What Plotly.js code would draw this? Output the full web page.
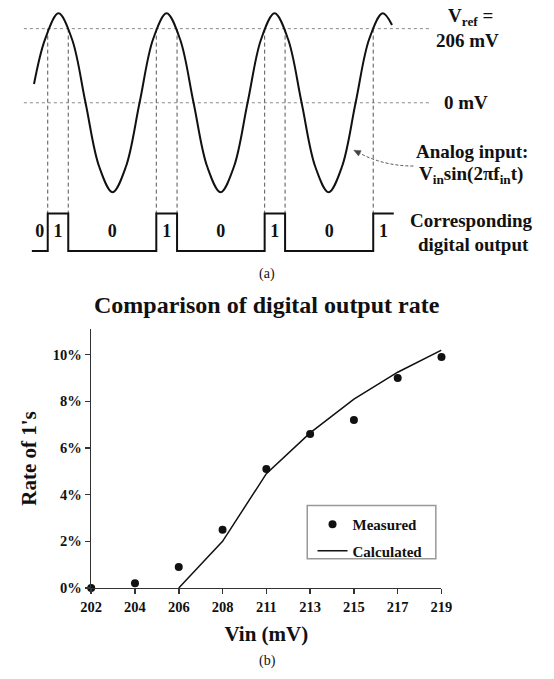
<!DOCTYPE html>
<html>
<head>
<meta charset="utf-8">
<script src="https://cdn.plot.ly/plotly-3.0.1.min.js"></script>
<style>
html,body{margin:0;padding:0;background:#fff;}
#chart{width:554px;height:679px;}
</style>
</head>
<body>
<div id="chart"></div>
<script>
// ---------- Panel (b) data ----------
const vinCategories = ['202', '204', '206', '208', '211', '213', '215', '217', '219'];
const measuredRate = [0.000, 0.002, 0.009, 0.025, 0.051, 0.066, 0.072, 0.090, 0.099];
const calculatedVin = ['206', '208', '211', '213', '215', '217', '219'];
const calculatedRate = [0.000, 0.020, 0.049, 0.0665, 0.081, 0.0925, 0.102];
const rateTicks = [0, 0.02, 0.04, 0.06, 0.08, 0.10];

// ---------- Panel (a) schematic data (time in periods, amplitude normalised) ----------
const sineT = [-0.227, -0.125, 0, 0.125, 0.25, 0.375, 0.5, 0.625, 0.75, 0.875,
               1, 1.125, 1.25, 1.375, 1.5, 1.625, 1.75, 1.875,
               2, 2.125, 2.25, 2.375, 2.5, 2.625, 2.75, 2.875, 3, 3.087];
const sineV = [0.21, 0.71, 1, 0.71, 0, -0.71, -1, -0.71, 0, 0.71,
               1, 0.71, 0, -0.71, -1, -0.71, 0, 0.71,
               1, 0.71, 0, -0.71, -1, -0.71, 0, 0.71, 1, 0.87];
const vrefLevel = 0.829;   // 206 mV relative to amplitude
const zeroLevel = 0;
const digitalT = [-0.247, -0.100, 0.090, 0.905, 1.097, 1.908, 2.097, 2.913, 3.103];
const digitalBits = [0, 1, 0, 1, 0, 1, 0, 1, 1];

// ---------- geometry helpers (layout only) ----------
const W = 554, H = 679;
const PX = v => v / W;
const PY = v => 1 - v / H;
const FONT = 'Liberation Serif, Times New Roman, serif';
const INK = '#111';

// top panel pixel geometry
const topH = 290, t0px = 49.5, pxPerT = 112.5, midPx = 104, ampPx = 90.5, lowPx = 254, bitPx = 38;
const x2Range = [-t0px / pxPerT, (W - t0px) / pxPerT];
const y2Range = [(midPx - topH) / ampPx, midPx / ampPx];
const y3Range = [-(topH - lowPx) / bitPx, lowPx / bitPx];
const y3toY2 = v => (midPx - (lowPx - v * bitPx)) / ampPx;

// bit labels at the middle of each output segment
const bitLabelT = [], bitLabelText = [], bitLabelY = [];
for (let i = 0; i < digitalT.length - 1; i++) {
  bitLabelT.push((digitalT[i] + digitalT[i + 1]) / 2);
  bitLabelText.push(String(digitalBits[i]));
  bitLabelY.push(0.5);
}

const traces = [
  {x: sineT, y: sineV, xaxis: 'x2', yaxis: 'y2', mode: 'lines',
   line: {color: INK, width: 2, shape: 'spline', smoothing: 1},
   showlegend: false, hoverinfo: 'skip'},
  {x: digitalT, y: digitalBits, xaxis: 'x2', yaxis: 'y3', mode: 'lines',
   line: {color: INK, width: 2, shape: 'hv'}, showlegend: false, hoverinfo: 'skip'},
  {x: bitLabelT, y: bitLabelY, xaxis: 'x2', yaxis: 'y3', mode: 'text', text: bitLabelText,
   textfont: {family: FONT, size: 18, weight: 'bold', color: INK}, textposition: 'middle center',
   showlegend: false, hoverinfo: 'skip'},
  {x: vinCategories, y: measuredRate, xaxis: 'x', yaxis: 'y', mode: 'markers', name: 'Measured',
   legendgroup: 'm', marker: {color: INK, size: 8}, cliponaxis: false},
  {x: calculatedVin, y: calculatedRate, xaxis: 'x', yaxis: 'y', mode: 'lines', name: 'Calculated',
   legendgroup: 'c', line: {color: INK, width: 1.5}, cliponaxis: false}
];

// arrow head geometry (pixels)
const tip = [357, 152], dir = [0.894, 0.447], perp = [-0.447, 0.894], hl = 7, hw = 3;
const base = [tip[0] + hl * dir[0], tip[1] + hl * dir[1]];
const b1 = [base[0] + hw * perp[0], base[1] + hw * perp[1]];
const b2 = [base[0] - hw * perp[0], base[1] - hw * perp[1]];

const shapes = [
  {type: 'line', xref: 'x2', yref: 'y2', x0: -0.321, x1: 3.453, y0: vrefLevel, y1: vrefLevel,
   line: {color: '#8a8a8a', width: 1, dash: 'dot'}, layer: 'below'},
  {type: 'line', xref: 'x2', yref: 'y2', x0: -0.321, x1: 3.453, y0: zeroLevel, y1: zeroLevel,
   line: {color: '#8a8a8a', width: 1, dash: 'dot'}, layer: 'below'},
  {type: 'path', xref: 'paper', yref: 'paper',
   path: `M ${PX(419)},${PY(168)} Q ${PX(388)},${PY(168)} ${PX(362)},${PY(154.5)}`,
   line: {color: '#555', width: 1, dash: '3px,2px'}},
  {type: 'path', xref: 'paper', yref: 'paper',
   path: `M ${PX(tip[0])},${PY(tip[1])} L ${PX(b1[0])},${PY(b1[1])} L ${PX(b2[0])},${PY(b2[1])} Z`,
   line: {color: '#444', width: 0.5}, fillcolor: '#444'},
  {type: 'rect', xref: 'paper', yref: 'paper', x0: PX(308.5), x1: PX(442.4), y0: PY(565.5), y1: PY(511.5),
   line: {color: '#999', width: 1.5}, fillcolor: 'rgba(0,0,0,0)'}
];
for (let i = 1; i < digitalT.length - 1; i++) {
  shapes.push({type: 'line', xref: 'x2', yref: 'y2', x0: digitalT[i], x1: digitalT[i],
    y0: vrefLevel, y1: y3toY2(1), line: {color: '#555', width: 1, dash: '4px,3px'}, layer: 'below'});
}

const labelFont = {family: FONT, size: 19, weight: 'bold', color: INK};
const lbl = (x, y, text) => ({xref: 'paper', yref: 'paper', x: PX(x), y: PY(y), text: text,
  showarrow: false, font: labelFont, xanchor: 'center', yanchor: 'middle'});
const annotations = [
  lbl(479, 17, 'V<sub>ref</sub> ='),
  lbl(475.5, 40.5, '206 mV'),
  lbl(474, 104, '0 mV'),
  lbl(480, 153, 'Analog input:'),
  lbl(478.7, 177, 'V<sub>in</sub>sin(2πf<sub>in</sub>t)'),
  lbl(479.6, 223, 'Corresponding'),
  lbl(481.3, 247, 'digital output'),
  {xref: 'paper', yref: 'paper', x: PX(266.8), y: PY(277), text: '(a)', showarrow: false,
   font: {family: FONT, size: 14, color: INK}, xanchor: 'center', yanchor: 'middle'},
  {xref: 'paper', yref: 'paper', x: PX(266.8), y: PY(669), text: '(b)', showarrow: false,
   font: {family: FONT, size: 14, color: INK}, xanchor: 'center', yanchor: 'middle'}
];

const axisCommon = {
  showline: true, linecolor: '#333', linewidth: 1.5, mirror: false,
  ticks: 'outside', ticklen: 5, tickwidth: 1.5, tickcolor: '#333',
  tickfont: {family: FONT, size: 14.5, weight: 'bold', color: INK},
  showgrid: false, zeroline: false, automargin: true, fixedrange: true
};

const layout = {
  width: W, height: H,
  margin: {l: 0, r: 0, t: 0, b: 0, pad: 0},
  paper_bgcolor: '#fff', plot_bgcolor: 'rgba(0,0,0,0)',
  font: {family: FONT, color: INK},
  title: {text: 'Comparison of digital output rate', font: {family: FONT, size: 24, weight: 'bold', color: INK},
          x: PX(266.7), xanchor: 'center', y: PY(305), yanchor: 'middle'},
  xaxis: Object.assign({}, axisCommon, {
    domain: [PX(83.5), PX(448.3)], anchor: 'y', type: 'category',
    categoryorder: 'array', categoryarray: vinCategories, range: [0, vinCategories.length - 1],
    title: {text: 'Vin (mV)', font: {family: FONT, size: 21, weight: 'bold', color: INK}, standoff: 12}
  }),
  yaxis: Object.assign({}, axisCommon, {
    domain: [PY(595), PY(333)], anchor: 'x', range: [0, 0.111],
    tickvals: rateTicks, tickformat: '.0%',
    title: {text: "Rate of 1's", font: {family: FONT, size: 21, weight: 'bold', color: INK}, standoff: 10}
  }),
  xaxis2: {domain: [0, 1], anchor: 'y2', range: x2Range, visible: false, fixedrange: true},
  yaxis2: {domain: [PY(topH), 1], anchor: 'x2', range: y2Range, visible: false, fixedrange: true},
  yaxis3: {overlaying: 'y2', anchor: 'x2', range: y3Range, visible: false, fixedrange: true},
  showlegend: true,
  legend: {x: PX(314), xanchor: 'left', y: PY(514), yanchor: 'top', bgcolor: 'rgba(0,0,0,0)',
           borderwidth: 0, font: {family: FONT, size: 15, weight: 'bold', color: INK},
           traceorder: 'grouped', tracegroupgap: 4, itemwidth: 30},
  shapes: shapes,
  annotations: annotations
};

Plotly.newPlot('chart', traces, layout, {staticPlot: true, displayModeBar: false});
</script>
</body>
</html>
